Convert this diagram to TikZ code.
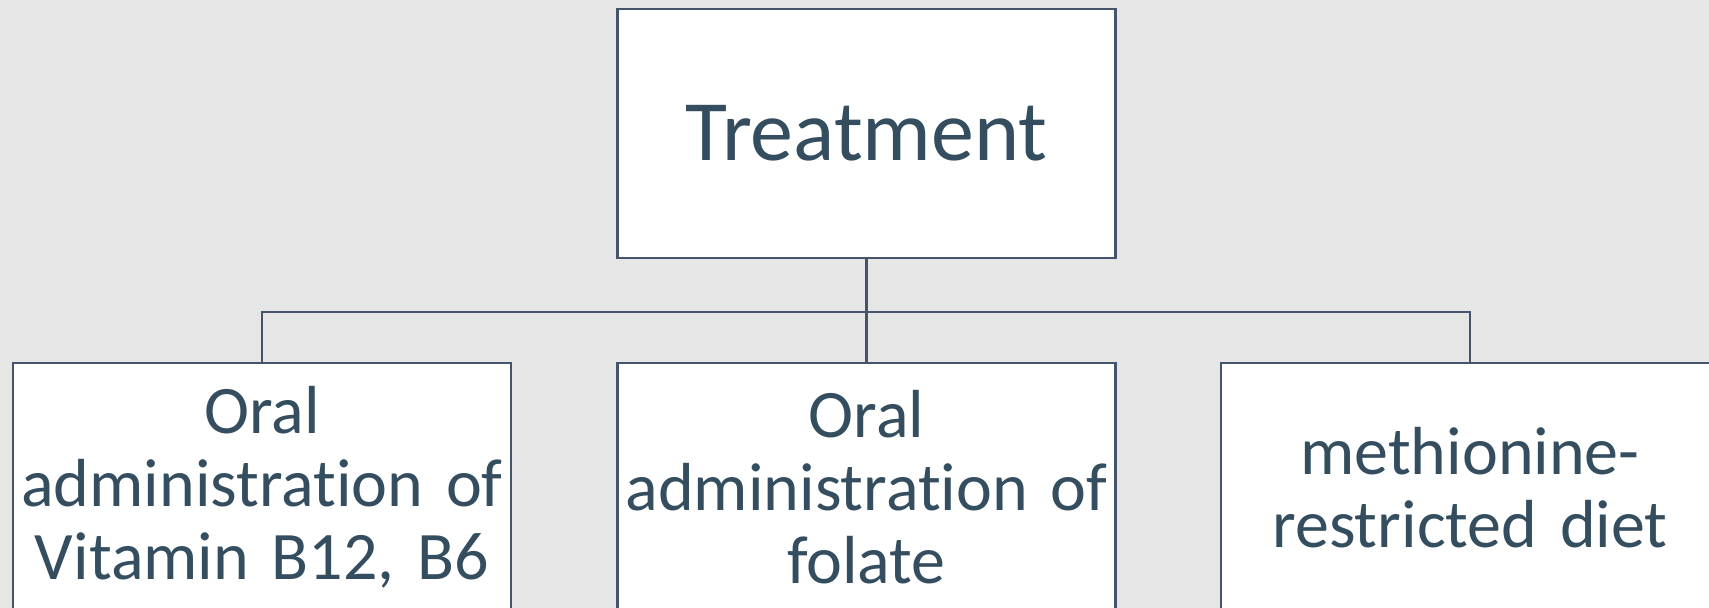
\documentclass[tikz,border=0pt]{standalone}
\usepackage{fontspec}
\setmainfont{Carlito}[Ligatures=CommonOff]
\definecolor{txtcol}{HTML}{344E5F}
\definecolor{linecol}{HTML}{44546A}
\definecolor{bgcol}{HTML}{E7E6E6}
\tikzset{
  box/.style = {draw = linecol, line width = 2.4pt, fill = white, inner sep = 0pt,
                minimum width = 498pt, minimum height = 249pt, text width = 492pt,
                align = center, text = txtcol, font = \fontsize{68}{73}\selectfont},
  link/.style = {draw = linecol, line width = 2.4pt}
}
\begin{document}
\begin{tikzpicture}[x = 1pt, y = 1pt]
	\useasboundingbox (0,0) rectangle (1709,608);
	\fill [bgcol](0,0) rectangle (1709,608);
	\clip (0,0) rectangle (1709,608);

	\node (treat)[box, font = \fontsize{86}{92}\selectfont] at(866.5, 474.5) {Treatment};
	\node (vit)[box] at(262, 120.5)   {Oral\\administration of\\Vitamin B12, B6};
	\node (fol)[box] at(866.5, 120.5) {Oral\\administration of\\folate};
	\node (met)[box] at(1470, 120.5)  {methionine-\\restricted diet};

	\coordinate (bus) at(866.5, 296);
	\draw [link](treat.south)--(bus);
	\draw [link](bus)-|(vit.north);
	\draw [link](bus)--(fol.north);
	\draw [link](bus)-|(met.north);
\end{tikzpicture}
\end{document}
